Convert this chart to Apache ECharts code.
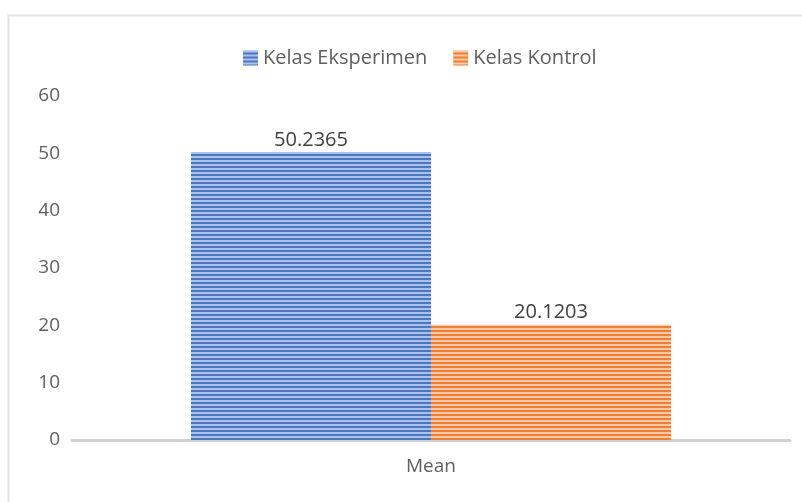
<!DOCTYPE html>
<html>
<head>
<meta charset="utf-8">
<script src="https://cdn.jsdelivr.net/npm/echarts@6/dist/echarts.min.js"></script>
<style>
  html, body { margin: 0; padding: 0; background: #fff; }
  #chart { width: 802px; height: 502px; }
</style>
</head>
<body>
<div id="chart"></div>
<script>
(function() {
  var categories = ['Mean'];
  var seriesNames = ['Kelas Eksperimen', 'Kelas Kontrol'];
  var eksperimen = [50.2365];
  var kontrol = [20.1203];
  var yTicks = [0, 10, 20, 30, 40, 50, 60];

  // horizontal stripe fill, like the Excel pattern
  function stripes(dark, light) {
    var c = document.createElement('canvas');
    c.width = 4; c.height = 4;
    var ctx = c.getContext('2d');
    ctx.fillStyle = light;
    ctx.fillRect(0, 0, 4, 4);
    ctx.fillStyle = dark;
    ctx.fillRect(0, 2, 4, 2);
    return { image: c, repeat: 'repeat' };
  }

  var blue = stripes('#4a76c6', '#aec2e8');
  var orange = stripes('#ef7f34', '#f9c9a8');
  var textCol = '#5f5f5f';
  var font = '"Open Sans", "Noto Sans", sans-serif';

  var chart = echarts.init(document.getElementById('chart'), null, { renderer: 'canvas' });
  chart.setOption({
    animation: false,
    backgroundColor: '#fff',
    graphic: [{
      type: 'rect', left: 6, top: 13, silent: true,
      shape: { width: 900, height: 600 },
      style: { fill: 'none', stroke: '#e3e3e3', lineWidth: 2 }
    }],
    legend: {
      data: seriesNames,
      top: 43, left: 238,
      itemWidth: 15, itemHeight: 15, itemGap: 26,
      icon: 'rect',
      textStyle: { color: textCol, fontSize: 20, fontFamily: font }
    },
    grid: { left: 72, right: 12, top: 96, bottom: 62 },
    xAxis: {
      type: 'category',
      data: categories,
      axisLine: { lineStyle: { color: '#d0d0d0', width: 3 } },
      axisTick: { show: false },
      axisLabel: { color: textCol, fontSize: 19, fontFamily: font, margin: 17 }
    },
    yAxis: {
      type: 'value',
      min: yTicks[0], max: yTicks[yTicks.length - 1], interval: 10,
      axisLine: { show: false },
      axisTick: { show: false },
      splitLine: { show: false },
      axisLabel: { color: textCol, fontSize: 19, fontFamily: font, margin: 12 }
    },
    series: [{
      name: seriesNames[0], type: 'bar', data: eksperimen,
      barWidth: 240, barGap: '0%',
      itemStyle: { color: blue },
      label: { show: true, position: 'top', color: '#404040', fontSize: 20, fontFamily: font, distance: 2,
        formatter: function(p) { return p.value.toFixed(4); } }
    }, {
      name: seriesNames[1], type: 'bar', data: kontrol,
      barWidth: 240, barGap: '0%',
      itemStyle: { color: orange },
      label: { show: true, position: 'top', color: '#404040', fontSize: 20, fontFamily: font, distance: 2,
        formatter: function(p) { return p.value.toFixed(4); } }
    }]
  });
})();
</script>
</body>
</html>
